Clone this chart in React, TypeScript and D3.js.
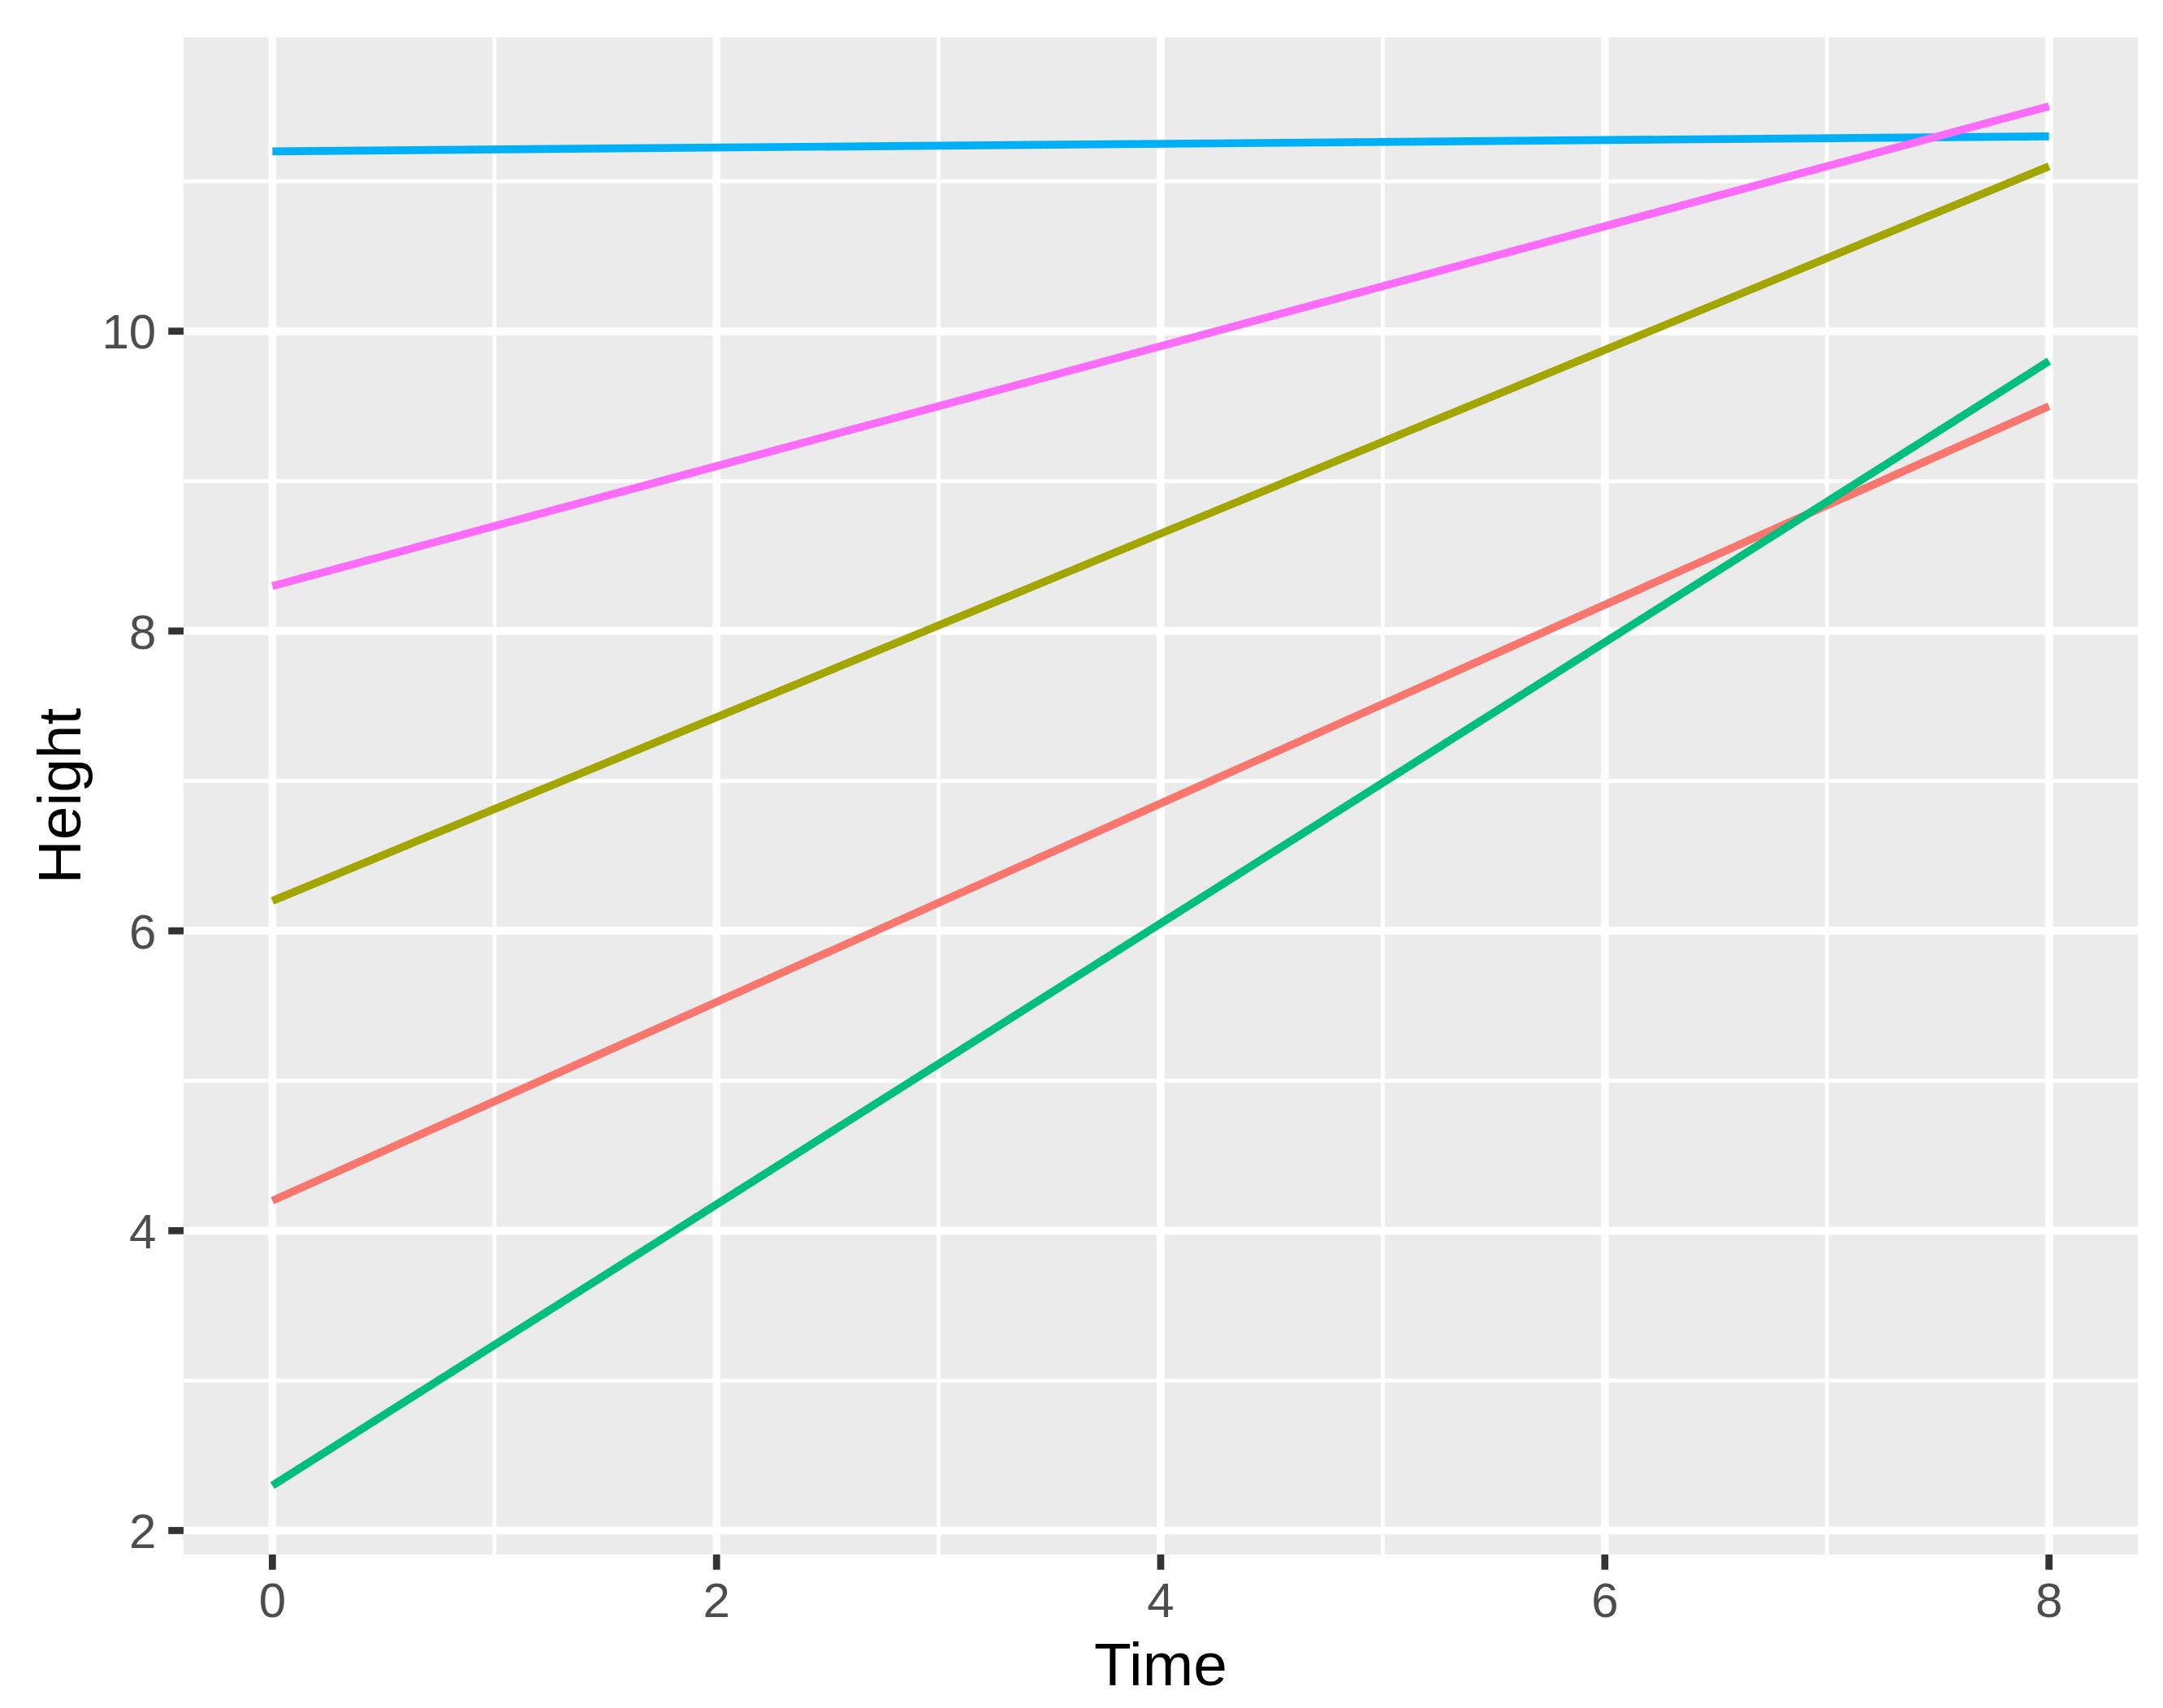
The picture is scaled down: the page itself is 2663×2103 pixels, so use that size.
import React from 'react';
import * as d3 from 'd3';

// --- Data ---
const times = [0, 8];
const seriesNames = ['a', 'b', 'c', 'd', 'e'];
const seriesStart = [4.2, 6.2, 2.3, 11.2, 8.3];
const seriesEnd = [9.5, 11.1, 9.8, 11.3, 11.5];
const seriesColors = ['#F8766D', '#A3A500', '#00BF7D', '#00B0F6', '#FB6DF8'];
const xTicks = [0, 2, 4, 6, 8];
const xMinor = [1, 3, 5, 7];
const yTicks = [2, 4, 6, 8, 10];
const yMinor = [3, 5, 7, 9, 11];

// --- Layout ---
const W = 2663;
const H = 2103;
const pt = 75 / 11;
const margin = { top: 46, right: 31, bottom: 189, left: 226 };

const App = () => {
    const pw = W - margin.left - margin.right;
    const ph = H - margin.top - margin.bottom;

    const allY = [...seriesStart, ...seriesEnd];
    const yMin = d3.min(allY) as number;
    const yMax = d3.max(allY) as number;
    const yPad = (yMax - yMin) * 0.05;
    const xPad = (times[1] - times[0]) * 0.05;

    const x = d3.scaleLinear().domain([times[0] - xPad, times[1] + xPad]).range([0, pw]);
    const y = d3.scaleLinear().domain([yMin - yPad, yMax + yPad]).range([ph, 0]);

    const line = d3.line<[number, number]>()
        .x(d => x(d[0]))
        .y(d => y(d[1]));

    const majorW = 1.42 * pt;
    const minorW = 0.71 * pt;
    const tickLen = 2.75 * pt;
    const axisFont = 8.8 * pt;
    const titleFont = 11 * pt;

    return (
        <>
            <style>{`body { margin: 0; }`}</style>
            <svg width={W} height={H} style={{ display: 'block', fontFamily: '"Liberation Sans", Arial, sans-serif' }}>
                <rect width={W} height={H} fill="#ffffff" />
                <g transform={`translate(${margin.left},${margin.top})`}>
                    <rect width={pw} height={ph} fill="#EBEBEB" />

                    {/* grid */}
                    {xMinor.map(t => (
                        <line key={`xm${t}`} x1={x(t)} x2={x(t)} y1={0} y2={ph} stroke="#fff" strokeWidth={minorW} />
                    ))}
                    {yMinor.map(t => (
                        <line key={`ym${t}`} x1={0} x2={pw} y1={y(t)} y2={y(t)} stroke="#fff" strokeWidth={minorW} />
                    ))}
                    {xTicks.map(t => (
                        <line key={`xg${t}`} x1={x(t)} x2={x(t)} y1={0} y2={ph} stroke="#fff" strokeWidth={majorW} />
                    ))}
                    {yTicks.map(t => (
                        <line key={`yg${t}`} x1={0} x2={pw} y1={y(t)} y2={y(t)} stroke="#fff" strokeWidth={majorW} />
                    ))}

                    {/* series */}
                    {seriesNames.map((name, i) => (
                        <path
                            key={name}
                            d={line([[times[0], seriesStart[i]], [times[1], seriesEnd[i]]]) || ''}
                            fill="none"
                            stroke={seriesColors[i]}
                            strokeWidth={majorW}
                            strokeLinecap="butt"
                        />
                    ))}

                    {/* x axis */}
                    {xTicks.map(t => (
                        <g key={`xt${t}`} transform={`translate(${x(t)},${ph})`}>
                            <line y1={0} y2={tickLen} stroke="#333333" strokeWidth={majorW * 0.9} />
                            <text y={tickLen + 2.2 * pt + axisFont * 0.72} textAnchor="middle" fontSize={axisFont} fill="#4D4D4D">{t}</text>
                        </g>
                    ))}

                    {/* y axis */}
                    {yTicks.map(t => (
                        <g key={`yt${t}`} transform={`translate(0,${y(t)})`}>
                            <line x1={-tickLen} x2={0} stroke="#333333" strokeWidth={majorW * 0.9} />
                            <text x={-tickLen - 2.2 * pt} dy="0.36em" textAnchor="end" fontSize={axisFont} fill="#4D4D4D">{t}</text>
                        </g>
                    ))}

                    {/* titles */}
                    <text x={pw / 2} y={ph + 161} textAnchor="middle" fontSize={titleFont} fill="#000">Time</text>
                    <text transform={`translate(${-127},${ph / 2}) rotate(-90)`} textAnchor="middle" fontSize={titleFont} fill="#000">Height</text>
                </g>
            </svg>
        </>
    );
};

export default App;
